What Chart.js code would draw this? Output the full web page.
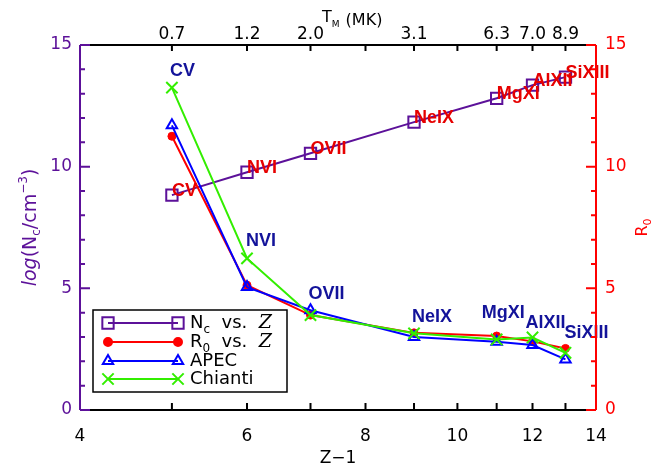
<!DOCTYPE html>
<html>
<head>
<meta charset="utf-8">
<script src="https://cdn.jsdelivr.net/npm/chart.js@4.4.1/dist/chart.umd.min.js"></script>
<style>
  html, body { margin: 0; padding: 0; background: #fff; }
  #wrap { width: 665px; height: 465px; }
</style>
</head>
<body>
<div id="wrap"><canvas id="ionChart" width="665" height="465"></canvas></div>
<script>
// values
const zMinus1 = [5, 6, 7, 9, 11, 12, 13];
const ions = ["CV", "NVI", "OVII", "NeIX", "MgXI", "AlXII", "SiXIII"];
const tempMK = ["0.7", "1.2", "2.0", "3.1", "6.3", "7.0", "8.9"];
const logNc = [8.83, 9.77, 10.55, 11.83, 12.81, 13.35, 13.68];
const r0 = [11.25, 5.13, 3.9, 3.17, 3.04, 2.82, 2.53];
const r0Apec = [11.7, 5.05, 4.1, 3.0, 2.8, 2.67, 2.08];
const r0Chianti = [13.25, 6.23, 3.9, 3.15, 2.9, 2.98, 2.35];
const xTicks = [4, 5, 6, 7, 8, 9, 10, 11, 12, 13, 14];
const xLabelled = [4, 6, 8, 10, 12, 14];

const PURPLE = "#5c1199";
const RED = "#ff0000";
const BLUE = "#0000ff";
const GREEN = "#33ee00";
const NAVY = "#13139a";
const LABEL_RED = "#e60000";
const TICK_FONT = { family: "'DejaVu Sans', sans-serif", size: 17 };

// pixel nudges for the blue ion names above the R0 curves
const blueDx = [-2, -1, -2, -2, -15, -7, -1];
const blueDy = [-12, -12, -11, -11, -18, -9, -10];

function pts(ys) {
  return zMinus1.map((x, i) => ({ x: x, y: ys[i] }));
}

function drawRuns(ctx, x, y, runs) {
  runs.forEach(r => {
    ctx.font = r[1];
    ctx.fillText(r[0], x, y + (r[2] || 0));
    x += ctx.measureText(r[0]).width;
  });
  return x;
}

function runsWidth(ctx, runs) {
  let w = 0;
  runs.forEach(r => { ctx.font = r[1]; w += ctx.measureText(r[0]).width; });
  return w;
}

const framePlugin = {
  id: "frame",
  afterDraw(chart) {
    const { ctx, chartArea: a, scales } = chart;
    ctx.save();
    ctx.lineWidth = 2;
    ctx.strokeStyle = "#000";
    ctx.beginPath();
    ctx.moveTo(a.left, a.top); ctx.lineTo(a.right, a.top);
    ctx.moveTo(a.left, a.bottom); ctx.lineTo(a.right, a.bottom);
    xTicks.forEach(v => {
      const px = scales.x.getPixelForValue(v);
      ctx.moveTo(px, a.bottom); ctx.lineTo(px, a.bottom - 7);
    });
    for (let v = 5; v <= 13; v++) {
      const px = scales.x2.getPixelForValue(v);
      ctx.moveTo(px, a.top); ctx.lineTo(px, a.top + 6);
    }
    ctx.stroke();

    ctx.strokeStyle = PURPLE;
    ctx.beginPath();
    ctx.moveTo(a.left, a.top); ctx.lineTo(a.left, a.bottom);
    for (let v = 0; v <= 15; v++) {
      const py = scales.y.getPixelForValue(v);
      ctx.moveTo(a.left, py); ctx.lineTo(a.left + (v % 5 === 0 ? 10 : 5), py);
    }
    ctx.stroke();

    ctx.strokeStyle = RED;
    ctx.beginPath();
    ctx.moveTo(a.right, a.top); ctx.lineTo(a.right, a.bottom);
    for (let v = 0; v <= 15; v++) {
      const py = scales.y2.getPixelForValue(v);
      ctx.moveTo(a.right, py); ctx.lineTo(a.right - (v % 5 === 0 ? 10 : 5), py);
    }
    ctx.stroke();

    // axis titles
    ctx.textAlign = "left";
    ctx.textBaseline = "alphabetic";
    ctx.fillStyle = "#000";
    const bottom = [["Z\u22121", "17px 'DejaVu Sans'"]];
    drawRuns(ctx, (a.left + a.right) / 2 - runsWidth(ctx, bottom) / 2, 463, bottom);
    let tx = drawRuns(ctx, 322, 22, [["T", "16px 'DejaVu Sans'"]]);
    tx = drawRuns(ctx, tx, 27, [["M", "9px 'DejaVu Sans'"]]);
    drawRuns(ctx, tx + 1, 25, [[" (MK)", "16px 'DejaVu Sans'"]]);

    const midY = (a.top + a.bottom) / 2;
    const left = [
      ["log", "italic 19px 'DejaVu Sans'"], ["(N", "19px 'DejaVu Sans'"],
      ["c", "12px 'DejaVu Sans'", 4], ["/cm", "19px 'DejaVu Sans'"],
      ["\u22123", "12px 'DejaVu Sans'", -9], [")", "19px 'DejaVu Sans'"]
    ];
    ctx.save();
    ctx.fillStyle = PURPLE;
    ctx.translate(36, midY);
    ctx.rotate(-Math.PI / 2);
    drawRuns(ctx, -runsWidth(ctx, left) / 2, 0, left);
    ctx.restore();

    const right = [["R", "16px 'DejaVu Sans'"], ["0", "11px 'DejaVu Sans'", 4]];
    ctx.save();
    ctx.fillStyle = RED;
    ctx.translate(647, midY);
    ctx.rotate(-Math.PI / 2);
    drawRuns(ctx, -runsWidth(ctx, right) / 2, 0, right);
    ctx.restore();
    ctx.restore();
  }
};

const ionLabels = {
  id: "ionLabels",
  afterDatasetsDraw(chart) {
    const { ctx, scales } = chart;
    ctx.save();
    ctx.font = "bold 18px 'Liberation Sans', Arial, sans-serif";
    ctx.textAlign = "left";
    ctx.textBaseline = "alphabetic";
    zMinus1.forEach((z, i) => {
      const px = scales.x.getPixelForValue(z);
      ctx.fillStyle = LABEL_RED;
      ctx.fillText(ions[i], px, scales.y.getPixelForValue(logNc[i]) + 1);
      const top = Math.max(r0[i], r0Apec[i], r0Chianti[i]);
      ctx.fillStyle = NAVY;
      ctx.fillText(ions[i], px + blueDx[i], scales.y2.getPixelForValue(top) + blueDy[i]);
    });
    ctx.restore();
  }
};

const legendBox = {
  id: "legendBox",
  afterDraw(chart) {
    const ctx = chart.ctx;
    ctx.save();
    ctx.lineWidth = 1.5;
    ctx.strokeStyle = "#000";
    ctx.fillStyle = "#fff";
    ctx.fillRect(93, 310, 194, 82);
    ctx.strokeRect(93, 310, 194, 82);
    const f = "18px 'DejaVu Sans'";
    const zf = "italic 19px 'DejaVu Serif'";
    const rows = [
      { color: PURPLE, style: "rect", r: 8, fill: "rgba(0,0,0,0)",
        text: [["N", f], ["c", "12px 'DejaVu Sans'", 5], ["  vs.  ", f], ["Z", zf]] },
      { color: RED, style: "circle", r: 4, fill: RED,
        text: [["R", f], ["0", "12px 'DejaVu Sans'", 5], ["  vs.  ", f], ["Z", zf]] },
      { color: BLUE, style: "triangle", r: 6, fill: "rgba(0,0,0,0)", text: [["APEC", f]] },
      { color: GREEN, style: "crossRot", r: 8, fill: "rgba(0,0,0,0)", text: [["Chianti", f]] }
    ];
    const rowY = [323, 342, 361, 379];
    rows.forEach((row, i) => {
      const y = rowY[i];
      ctx.strokeStyle = row.color;
      ctx.lineWidth = 2;
      ctx.beginPath();
      ctx.moveTo(108, y); ctx.lineTo(178, y);
      ctx.stroke();
      ctx.fillStyle = row.fill;
      [108, 178].forEach(x => {
        Chart.helpers.drawPoint(ctx, { pointStyle: row.style, radius: row.r, borderWidth: 2, rotation: 0 }, x, y);
      });
      ctx.fillStyle = "#000";
      ctx.textBaseline = "alphabetic";
      drawRuns(ctx, 190, y + 5, row.text);
    });
    ctx.restore();
  }
};

new Chart(document.getElementById("ionChart"), {
  type: "scatter",
  data: {
    datasets: [
      { label: "Chianti", data: pts(r0Chianti), yAxisID: "y2", order: 0, showLine: true,
        borderColor: GREEN, backgroundColor: GREEN, borderWidth: 2,
        pointStyle: "crossRot", pointRadius: 8, pointBorderWidth: 2 },
      { label: "APEC", data: pts(r0Apec), yAxisID: "y2", order: 1, showLine: true,
        borderColor: BLUE, backgroundColor: "rgba(0,0,0,0)", borderWidth: 2,
        pointStyle: "triangle", pointRadius: 6, pointBorderWidth: 2 },
      { label: "R0 vs. Z", data: pts(r0), yAxisID: "y2", order: 2, showLine: true,
        borderColor: RED, backgroundColor: RED, borderWidth: 2,
        pointStyle: "circle", pointRadius: 4, pointBorderWidth: 1 },
      { label: "Nc vs. Z", data: pts(logNc), yAxisID: "y", order: 3, showLine: true,
        borderColor: PURPLE, backgroundColor: "rgba(0,0,0,0)", borderWidth: 2,
        pointStyle: "rect", pointRadius: 8, pointBorderWidth: 2 }
    ]
  },
  options: {
    responsive: false,
    animation: false,
    devicePixelRatio: 1,
    layout: { padding: 0 },
    plugins: { legend: { display: false }, tooltip: { enabled: false } },
    scales: {
      x: {
        type: "logarithmic", position: "bottom", min: 4, max: 14,
        afterBuildTicks: s => { s.ticks = xTicks.map(v => ({ value: v })); },
        afterFit: s => { s.height = 55; },
        grid: { display: false, drawTicks: false }, border: { display: false },
        ticks: { autoSkip: false, maxRotation: 0, padding: 16, color: "#000", font: TICK_FONT,
          callback: v => (xLabelled.includes(v) ? String(v) : "") }
      },
      x2: {
        type: "logarithmic", position: "top", min: 4, max: 14,
        afterBuildTicks: s => { s.ticks = zMinus1.map(v => ({ value: v })); },
        afterFit: s => { s.height = 45; },
        grid: { display: false, drawTicks: false }, border: { display: false },
        ticks: { autoSkip: false, maxRotation: 0, padding: 0, color: "#000", font: TICK_FONT,
          callback: (v, i) => tempMK[i] }
      },
      y: {
        type: "linear", position: "left", min: 0, max: 15,
        afterFit: s => { s.width = 80; },
        grid: { display: false, drawTicks: false }, border: { display: false },
        ticks: { stepSize: 5, padding: 8, color: PURPLE, font: TICK_FONT }
      },
      y2: {
        type: "linear", position: "right", min: 0, max: 15,
        afterFit: s => { s.width = 69; },
        grid: { display: false, drawTicks: false }, border: { display: false },
        ticks: { stepSize: 5, padding: 9, color: RED, font: TICK_FONT }
      }
    }
  },
  plugins: [ionLabels, framePlugin, legendBox]
});
</script>
</body>
</html>
